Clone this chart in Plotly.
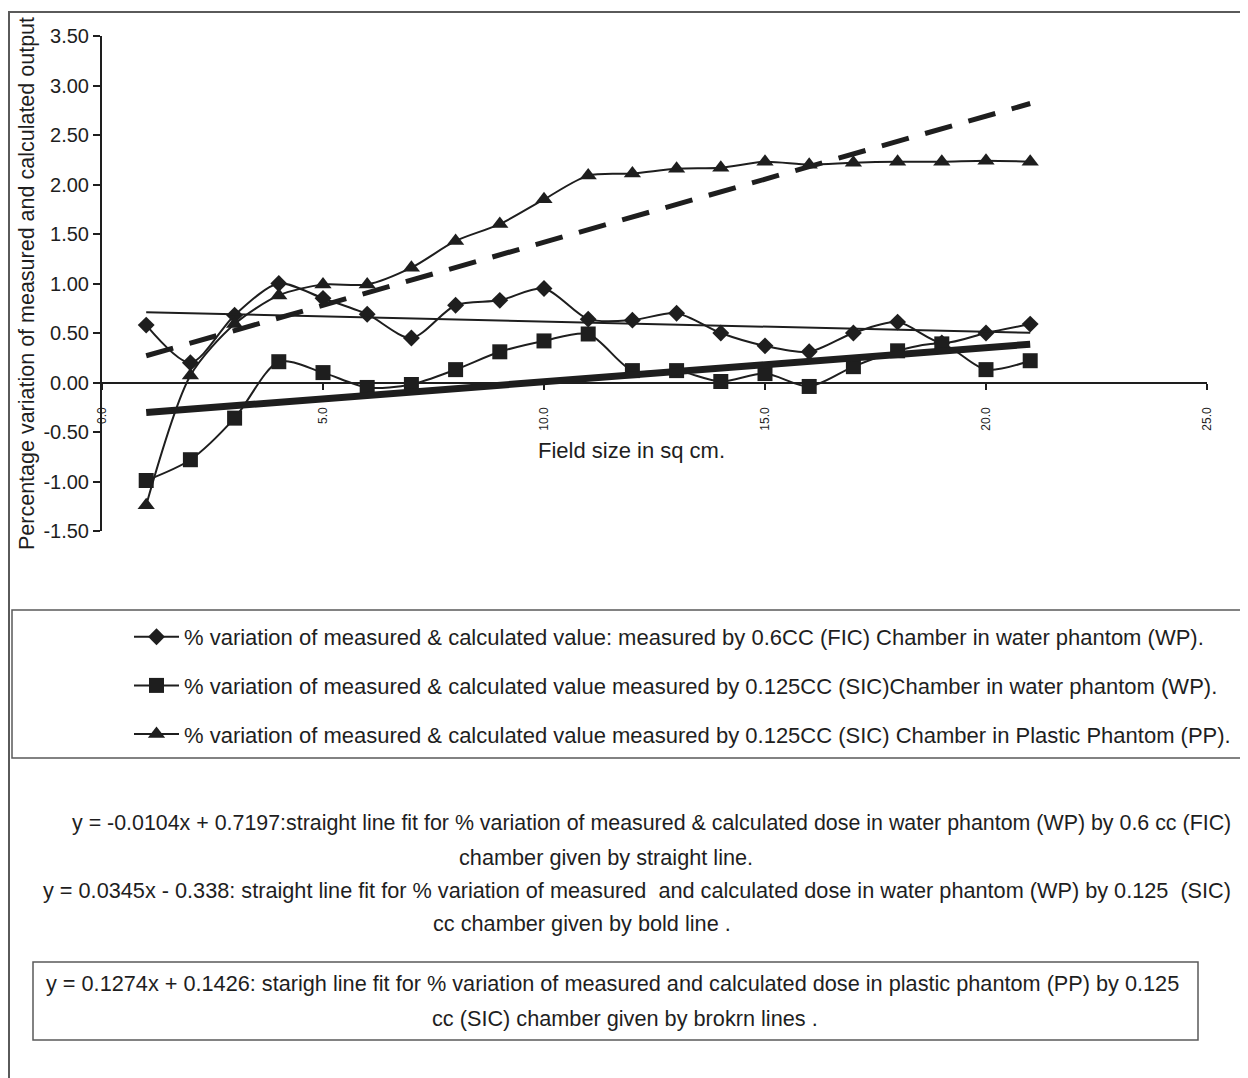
import plotly.graph_objects as go

# ---------------- data ----------------
field_size = list(range(1, 22))
fic_wp = [0.58, 0.20, 0.68, 1.00, 0.85, 0.69, 0.45, 0.78, 0.83, 0.95, 0.64,
          0.63, 0.70, 0.50, 0.37, 0.31, 0.50, 0.61, 0.40, 0.50, 0.59]
sic_wp = [-0.99, -0.78, -0.36, 0.21, 0.10, -0.05, -0.02, 0.13, 0.31, 0.42, 0.49,
          0.12, 0.12, 0.01, 0.09, -0.04, 0.16, 0.32, 0.39, 0.13, 0.22]
sic_pp = [-1.24, 0.07, 0.59, 0.88, 0.99, 0.99, 1.16, 1.43, 1.60, 1.85, 2.09,
          2.11, 2.16, 2.17, 2.23, 2.20, 2.22, 2.23, 2.23, 2.24, 2.23]

series_names = [
    "% variation of measured & calculated value: measured by 0.6CC (FIC) Chamber in water phantom (WP).",
    "% variation of measured & calculated value measured by 0.125CC (SIC)Chamber in water phantom (WP).",
    "% variation of measured & calculated value measured by 0.125CC (SIC) Chamber in Plastic Phantom (PP).",
]
fit_slopes = [-0.0104, 0.0345, 0.1274]
fit_intercepts = [0.7197, -0.338, 0.1426]

y_tick_vals = [-1.5, -1.0, -0.5, 0.0, 0.5, 1.0, 1.5, 2.0, 2.5, 3.0, 3.5]
y_tick_labels = ["-1.50", "-1.00", "-0.50", "0.00", "0.50", "1.00", "1.50", "2.00", "2.50", "3.00", "3.50"]

eq_lines = [
    "y = -0.0104x + 0.7197:straight line fit for % variation of measured & calculated dose in water phantom (WP) by 0.6 cc (FIC)",
    "chamber given by straight line.",
    "y = 0.0345x - 0.338: straight line fit for % variation of measured  and calculated dose in water phantom (WP) by 0.125  (SIC)",
    "cc chamber given by bold line .",
    "y = 0.1274x + 0.1426: starigh line fit for % variation of measured and calculated dose in plastic phantom (PP) by 0.125",
    "cc (SIC) chamber given by brokrn lines .",
]

x_title = "Field size in sq cm."
y_title = "Percentage variation of measured and calculated output"

# ---------------- layout geometry (page pixels) ----------------
W, H = 1248, 1078
PAGE_OFF = 8          # default body margin of the html page
L, R, T, B = 102, 1207, 36, 531


def fx(px):
    return (px - L) / (R - L)


def fy(py):
    return (B - py) / (B - T)


FONT = "Liberation Sans, Arial, sans-serif"
INK = "#1e1e1e"
FRAME = "#5a5a5a"

fig = go.Figure()

symbols = ["diamond", "square", "triangle-up"]
sizes = [13, 15, 15]
for i, (ys, sym, sz) in enumerate(zip([fic_wp, sic_wp, sic_pp], symbols, sizes)):
    fig.add_trace(go.Scatter(
        x=field_size, y=ys, mode="lines+markers", name=series_names[i],
        legendgroup=f"g{i}",
        line=dict(color=INK, width=2, shape="spline", smoothing=0.8),
        marker=dict(symbol=sym, size=sz, color=INK),
    ))

# linear fit lines
fit_styles = [dict(width=2, dash="solid"), dict(width=7, dash="solid"), dict(width=5, dash="28px,17px")]
x_ends = [field_size[0], field_size[-1]]
for s, b, st in zip(fit_slopes, fit_intercepts, fit_styles):
    fig.add_trace(go.Scatter(
        x=x_ends, y=[s * xv + b for xv in x_ends], mode="lines",
        line=dict(color=INK, **st), showlegend=False, hoverinfo="skip",
    ))

shapes = [
    # outer frame (extends past right/bottom edges)
    dict(type="rect", xref="paper", yref="paper", x0=fx(9), x1=fx(1275), y0=fy(1100), y1=fy(12),
         line=dict(color=FRAME, width=2), layer="below"),
    # legend box
    dict(type="rect", xref="paper", yref="paper", x0=fx(12), x1=fx(1242), y0=fy(758), y1=fy(610),
         line=dict(color=FRAME, width=1.5)),
    # equation box
    dict(type="rect", xref="paper", yref="paper", x0=fx(33), x1=fx(1198), y0=fy(1040), y1=fy(962),
         line=dict(color=FRAME, width=1.5)),
]

ann_font = dict(family=FONT, size=21.7, color=INK)
annotations = [
    dict(text=x_title, x=fx(631), y=fy(450), xanchor="center", yanchor="middle", font=dict(family=FONT, size=22, color=INK)),
    dict(text=eq_lines[0], x=fx(70), y=fy(823), xanchor="left", yanchor="middle", font=dict(family=FONT, size=21.4, color=INK)),
    dict(text=eq_lines[1], x=fx(606), y=fy(857), xanchor="center", yanchor="middle", font=ann_font),
    dict(text=eq_lines[2], x=fx(41), y=fy(890), xanchor="left", yanchor="middle", font=ann_font),
    dict(text=eq_lines[3], x=fx(582), y=fy(923), xanchor="center", yanchor="middle", font=ann_font),
    dict(text=eq_lines[4], x=fx(44), y=fy(983), xanchor="left", yanchor="middle", font=ann_font),
    dict(text=eq_lines[5], x=fx(625), y=fy(1018), xanchor="center", yanchor="middle", font=ann_font),
]
for a in annotations:
    a.update(xref="paper", yref="paper", showarrow=False)

fig.update_layout(
    width=W - PAGE_OFF, height=H - PAGE_OFF,
    margin=dict(l=L - PAGE_OFF, r=W - R, t=T - PAGE_OFF, b=H - B, pad=0),
    paper_bgcolor="white", plot_bgcolor="white",
    font=dict(family=FONT, color=INK),
    showlegend=True,
    legend=dict(
        x=fx(129), y=fy(616), xanchor="left", yanchor="top",
        bgcolor="rgba(0,0,0,0)", borderwidth=0,
        font=dict(family=FONT, size=22, color=INK),
        tracegroupgap=17, itemwidth=45,
    ),
    xaxis=dict(
        range=[0, 25], tick0=0, dtick=5, tickformat=".1f", tickangle=-90,
        anchor="free", position=fy(382.5), showline=True, linecolor=INK, linewidth=2,
        ticks="outside", ticklen=6, tickwidth=2, tickcolor=INK,
        tickfont=dict(family=FONT, size=12, color=INK), ticklabelstandoff=13,
        showgrid=False, zeroline=False,
    ),
    yaxis=dict(
        range=[-1.5, 3.5], tickmode="array", tickvals=y_tick_vals, ticktext=y_tick_labels,
        showline=True, linecolor=INK, linewidth=2,
        ticks="outside", ticklen=7, tickwidth=2, tickcolor=INK,
        tickfont=dict(family=FONT, size=20, color=INK),
        title=dict(text=y_title, font=dict(family=FONT, size=21.5, color=INK), standoff=3),
        showgrid=False, zeroline=False,
    ),
    shapes=shapes,
    annotations=annotations,
)

fig.write_html("out.html")
